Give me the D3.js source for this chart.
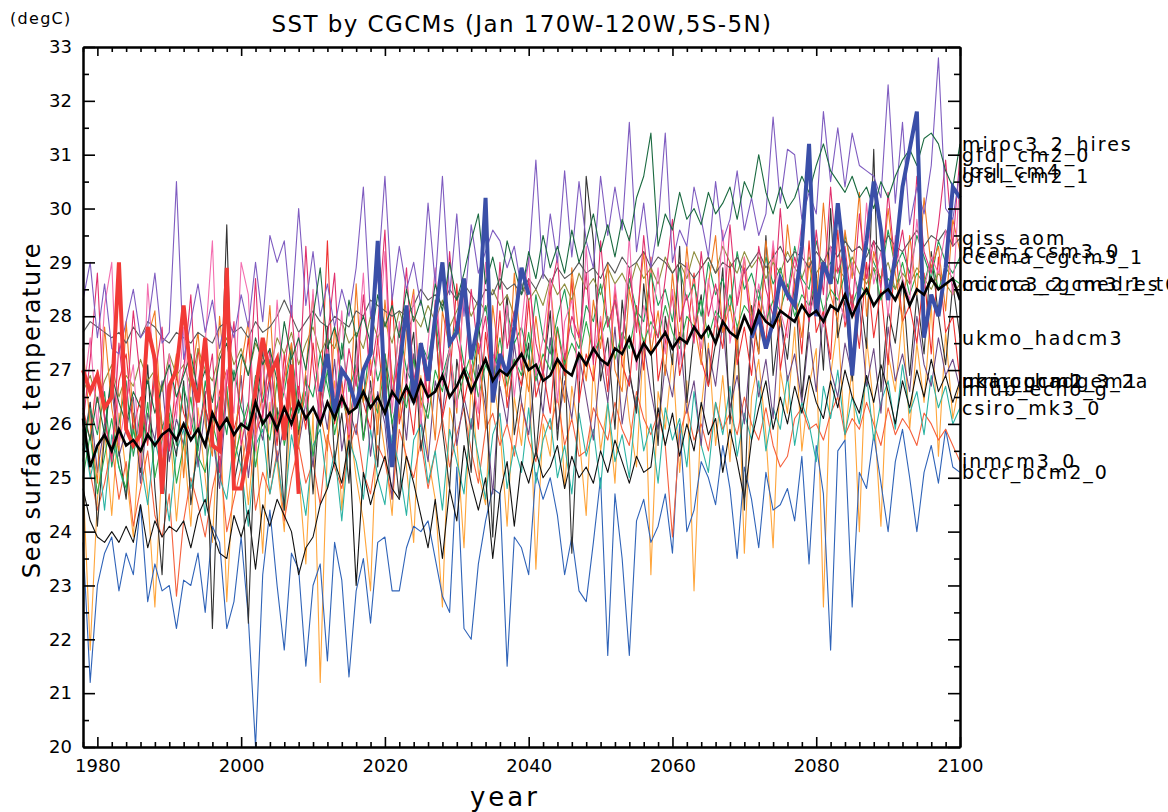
<html>
<head>
<meta charset="utf-8">
<script src="https://d3js.org/d3.v7.min.js"></script>
<style>
  body { margin: 0; background: #fff; }
  text { font-family: "DejaVu Sans", sans-serif; fill: #000; }
</style>
</head>
<body>
<div id="chart1"></div>
<script>
// January SST, 170W-120W 5S-5N, one value per year 1978..2100
var firstYear = 1978, lastYear = 2100;
var majorYears = [1980, 2000, 2020, 2040, 2060, 2080, 2100];
var tempTicks = [20, 21, 22, 23, 24, 25, 26, 27, 28, 29, 30, 31, 32, 33];

var bccr_bcm2_0 = [
  23.8,21.2,23.0,23.6,23.9,22.9,23.6,23.2,24.5,22.7,
  23.4,22.9,23.0,22.2,23.1,23.0,23.6,22.5,24.1,23.8,
  22.2,22.7,23.9,22.4,20.0,23.2,24.4,23.0,21.8,23.6,
  23.3,21.5,23.0,23.4,21.6,23.8,23.1,21.3,22.9,23.5,
  22.3,23.8,23.9,22.9,22.9,23.7,24.1,24.0,24.2,23.5,
  22.8,22.5,25.2,22.2,22.0,23.4,24.2,24.8,24.7,21.5,
  23.9,23.7,23.2,25.1,24.6,25.0,24.3,23.2,23.9,22.9,
  22.7,23.8,25.0,21.7,24.7,23.5,21.7,24.2,24.6,23.8,
  24.1,24.7,23.6,26.0,24.0,24.4,25.3,25.0,24.5,25.6,
  24.8,23.5,25.2,24.6,23.7,25.1,24.4,24.5,24.8,24.2,
  25.4,23.4,25.6,24.7,21.8,25.5,25.7,22.6,25.1,24.8,
  25.8,24.9,24.0,25.3,25.9,25.0,24.0,25.1,25.6,24.9,
  25.9,25.2,25.1];
var ipsl_cm4 = [
  28.3,29.0,27.6,28.6,27.4,27.3,27.9,28.5,27.6,27.8,
  28.8,27.5,27.7,30.5,27.2,27.9,28.6,27.7,28.3,27.4,
  28.1,27.6,28.4,27.8,29.0,27.9,29.5,29.0,29.4,28.0,
  30.0,28.2,29.2,28.0,28.6,27.8,28.5,28.0,28.9,30.4,
  28.0,28.7,30.6,28.3,29.3,28.5,29.0,28.2,30.1,28.6,
  30.6,28.4,29.9,28.0,29.7,28.8,29.2,29.6,29.4,28.9,
  29.3,28.5,29.0,30.9,28.7,29.9,29.0,30.7,29.1,30.5,
  29.4,28.9,30.6,29.5,30.4,29.6,31.6,29.2,30.1,28.9,
  29.7,31.4,29.0,29.6,29.3,30.4,29.8,29.1,30.5,29.4,
  29.8,30.7,29.6,30.2,29.5,29.9,31.7,30.1,31.1,31.0,
  29.8,30.3,29.9,31.8,30.5,31.5,30.4,31.4,30.8,30.7,
  30.6,30.2,32.3,30.1,31.6,29.7,30.4,29.9,30.8,32.8,
  30.0,29.8,30.7];
var miroc3_2_hires = [
  26.2,25.7,26.5,25.8,26.9,26.4,26.0,26.6,26.3,26.8,
  26.2,26.7,27.1,26.5,26.9,27.3,26.6,27.0,26.4,27.2,
  27.5,26.8,27.3,26.9,27.6,27.1,27.4,26.8,27.9,27.2,
  27.6,27.0,28.0,28.9,27.4,27.8,27.2,28.3,27.6,28.0,
  27.5,28.4,27.8,28.2,27.6,28.5,27.9,28.3,27.7,28.6,
  28.1,29.0,28.3,28.8,29.4,29.9,28.6,29.1,28.5,29.4,
  28.9,28.4,29.2,28.7,29.5,28.9,29.3,28.8,29.6,29.0,
  29.4,29.9,29.2,29.7,29.1,29.8,29.4,30.2,30.6,31.4,
  29.3,29.9,29.6,30.3,29.8,30.0,29.7,30.3,29.9,30.1,
  30.4,29.8,30.5,30.2,31.0,30.3,29.9,30.4,30.0,30.2,
  30.6,30.3,30.8,31.2,30.7,30.5,30.3,30.6,30.2,30.4,
  30.0,30.5,30.2,30.6,30.9,31.1,30.8,31.3,31.4,31.2,
  30.7,30.4,31.2];
var gfdl_cm2_0 = [
  26.0,27.2,28.8,26.1,25.3,27.5,26.2,28.1,26.8,25.7,
  26.9,27.8,25.5,26.4,27.0,28.4,25.9,26.5,27.3,25.1,
  26.8,27.9,25.6,26.3,28.7,26.1,27.4,25.8,26.9,28.2,
  26.4,29.3,27.1,26.0,27.6,28.8,26.3,27.4,26.7,28.4,
  26.9,27.8,29.6,26.5,27.3,28.9,26.8,27.5,26.4,28.3,
  27.0,29.2,27.6,26.9,28.5,27.3,28.0,26.7,29.0,27.4,
  28.1,27.0,28.7,27.5,26.9,28.4,29.1,27.2,28.0,27.6,
  28.8,27.1,29.4,27.8,28.3,27.4,28.9,27.7,29.5,28.1,
  27.6,28.7,29.8,27.9,28.4,27.5,29.2,28.0,28.6,27.8,
  29.7,28.2,28.9,27.7,29.3,28.5,28.0,30.0,28.3,29.1,
  28.6,27.9,29.6,28.4,30.4,28.8,29.3,28.1,29.9,28.7,
  29.4,28.5,30.3,28.9,29.6,28.6,30.6,29.2,28.8,29.7,
  30.9,29.3,31.0];
var gfdl_cm2_1 = [
  26.5,27.6,25.9,28.2,29.0,25.6,26.4,27.1,25.2,28.6,
  26.7,25.4,27.3,26.1,27.8,25.9,26.8,27.5,29.4,25.8,
  27.0,26.2,29.0,28.4,25.5,27.2,26.0,28.3,26.6,25.9,
  27.7,26.3,28.5,26.0,27.4,26.5,28.1,25.8,27.0,28.8,
  26.4,27.3,29.2,26.2,27.9,26.6,28.4,26.0,27.5,28.9,
  26.7,27.4,26.3,28.6,27.0,26.2,29.0,27.3,26.8,28.2,
  26.5,27.8,29.1,26.9,27.6,28.7,26.4,27.9,28.3,26.8,
  29.3,27.2,28.0,26.9,28.6,27.4,29.5,27.0,28.2,27.6,
  28.9,27.3,28.5,27.1,29.0,28.0,27.4,28.7,27.8,29.6,
  27.5,28.3,29.1,27.7,28.6,27.9,29.4,28.1,27.6,28.8,
  29.7,28.0,28.5,27.8,29.3,28.4,27.9,29.0,28.2,30.1,
  28.6,29.2,28.0,29.5,28.7,28.3,29.8,28.5,29.1,28.8,
  29.6,28.4,30.6];
var giss_aom = [
  27.7,27.9,27.8,27.7,27.6,27.7,27.5,27.8,27.6,27.9,
  27.8,27.6,27.5,27.7,27.6,27.5,27.7,27.6,27.5,27.8,
  27.9,27.7,27.8,27.6,27.9,27.7,27.8,28.0,28.3,28.0,
  27.7,27.9,28.1,27.9,27.8,28.0,27.9,27.8,28.1,28.0,
  28.3,28.2,28.1,28.0,28.1,28.0,28.2,28.5,28.3,28.4,
  28.2,28.5,28.3,28.6,28.4,28.2,28.5,28.4,28.7,28.5,
  28.6,28.4,28.7,28.5,28.8,28.6,28.9,28.7,28.8,29.0,
  28.8,28.9,28.7,29.0,28.8,29.1,28.9,29.0,29.2,28.9,
  29.1,29.0,28.8,29.0,28.9,28.7,28.9,29.1,28.8,29.0,
  28.9,29.1,28.8,29.0,29.2,28.9,29.1,29.3,29.0,29.2,
  29.1,28.9,29.2,29.0,29.3,29.1,29.4,29.2,29.3,29.1,
  29.4,29.2,29.5,29.3,29.2,29.4,29.6,29.3,29.5,29.4,
  29.6,29.3,29.45];
var ncar_ccsm3_0 = [
  27.4,26.0,24.9,27.8,26.3,25.5,27.9,26.1,25.2,27.6,
  28.1,25.7,26.4,27.3,25.0,26.8,27.7,26.0,25.4,28.0,
  26.5,25.3,27.1,27.9,25.8,26.6,28.2,25.9,26.8,27.5,
  25.6,27.0,28.4,26.2,25.5,27.8,26.7,25.9,28.6,26.4,
  27.2,25.8,28.3,26.9,26.1,27.7,28.5,26.3,27.0,25.7,
  28.1,27.4,26.2,28.7,26.8,27.5,25.9,28.2,27.1,26.5,
  28.8,27.3,26.6,28.0,26.9,28.6,27.2,26.4,28.9,27.6,
  26.8,28.3,27.4,29.0,27.0,26.6,28.5,27.8,29.2,27.3,
  28.1,26.9,28.8,27.5,29.3,27.9,27.1,28.6,29.5,27.7,
  28.2,27.4,29.1,28.0,27.3,29.4,28.3,27.8,29.7,28.5,
  27.6,29.0,28.2,30.1,28.4,27.9,29.6,28.7,30.3,28.0,
  29.2,28.6,30.0,28.8,27.9,29.5,28.4,30.2,28.9,29.3,
  28.1,29.8,29.2];
var cccma_cgcm3_1 = [
  25.5,26.3,25.8,26.6,25.2,26.0,26.8,25.4,26.2,25.7,
  26.9,25.9,26.4,25.6,26.7,26.1,25.5,26.8,26.0,26.5,
  25.8,27.0,26.3,25.9,26.9,26.4,27.2,26.1,26.6,27.4,
  26.2,26.8,26.5,27.3,26.7,26.1,27.5,26.6,27.1,26.4,
  27.6,26.8,27.3,26.5,27.8,27.0,26.7,27.5,27.2,28.0,
  26.9,27.4,27.9,27.1,26.8,27.7,28.2,27.3,27.0,28.1,
  27.5,27.8,27.2,28.4,27.6,27.3,28.0,28.5,27.7,27.4,
  28.2,27.9,28.6,27.8,28.3,27.5,28.7,28.1,27.9,28.8,
  28.2,28.5,27.9,28.9,28.3,28.6,28.0,29.0,28.4,28.7,
  28.1,29.2,28.5,28.8,28.3,29.1,28.6,28.9,28.4,29.3,
  28.7,28.5,29.4,28.8,29.0,28.6,29.5,28.9,28.4,29.3,
  29.0,28.7,29.6,28.9,29.2,28.8,29.5,29.1,28.7,29.4,
  29.0,28.8,29.1];
var cccma_cgcm3_1_t63 = [
  26.6,26.9,26.4,26.8,27.1,26.5,26.9,26.7,27.2,26.8,
  27.0,26.6,27.3,26.9,27.1,26.7,27.4,27.0,26.8,27.3,
  27.6,27.1,27.4,26.9,27.5,27.2,27.0,27.6,27.3,27.7,
  27.1,27.5,27.8,27.3,27.6,27.4,27.9,27.5,27.7,27.4,
  28.0,27.6,27.9,27.5,28.1,27.7,28.0,27.8,28.2,27.9,
  28.3,27.8,28.1,28.4,28.0,28.3,28.1,28.5,28.2,28.4,
  28.0,28.6,28.3,28.5,28.2,28.7,28.4,28.6,28.3,28.8,
  28.5,28.7,28.4,28.9,28.6,28.8,28.5,29.0,28.7,28.9,
  28.6,29.1,28.8,29.0,28.7,29.2,28.9,29.1,28.8,29.3,
  29.0,28.8,29.2,28.9,29.1,28.7,29.0,28.8,29.2,28.9,
  28.7,29.1,28.8,29.0,28.6,28.9,28.7,29.1,28.8,28.6,
  28.9,28.7,29.0,28.5,28.8,28.6,28.9,28.7,28.5,28.8,
  28.6,28.4,28.6];
var miroc3_2_medres = [
  25.0,25.8,24.7,25.4,26.1,25.2,24.8,25.9,25.3,26.4,
  25.0,25.7,26.2,24.9,25.6,26.5,25.4,25.1,26.0,25.5,
  26.7,25.3,25.9,26.4,25.2,26.1,25.7,26.8,25.6,26.3,
  25.9,26.6,25.4,26.2,27.0,25.8,26.5,26.0,26.9,25.7,
  26.6,26.2,27.1,26.0,26.7,26.3,27.2,26.5,26.1,27.0,
  26.6,27.4,26.4,26.9,27.3,26.5,27.1,26.8,27.6,26.7,
  27.2,26.9,27.7,26.8,27.3,27.0,27.8,27.1,27.5,27.2,
  27.9,27.3,27.6,28.0,27.2,27.7,27.4,28.1,27.5,27.9,
  27.6,28.2,27.7,27.4,28.0,27.8,28.3,27.6,28.1,27.9,
  28.4,27.8,28.2,28.0,28.5,27.9,28.3,28.1,28.6,28.0,
  28.4,28.2,28.7,28.1,28.5,28.3,28.8,28.2,28.6,28.4,
  28.9,28.3,28.7,28.5,29.0,28.4,28.8,28.6,29.1,28.5,
  28.9,28.7,28.6];
var ukmo_hadcm3 = [
  25.3,26.4,24.1,25.8,27.0,25.5,24.6,26.2,25.1,27.1,
  24.8,23.2,26.0,25.4,26.8,24.5,25.7,26.6,22.2,25.9,
  29.7,24.9,25.6,22.3,26.1,27.4,25.0,26.3,24.4,27.5,
  25.8,26.9,24.7,26.5,27.8,25.3,26.2,24.9,27.6,25.7,
  26.8,25.2,27.3,26.0,24.6,26.9,27.7,25.5,26.4,28.0,
  25.9,24.8,27.2,26.3,25.1,27.9,26.6,23.9,27.0,28.4,
  25.8,26.7,27.5,25.4,26.9,28.1,25.7,27.3,23.6,26.5,
  30.6,29.4,26.8,27.6,25.9,28.3,27.0,26.2,28.6,27.4,
  25.6,28.0,27.1,29.3,26.4,27.7,28.4,26.7,27.5,28.9,
  26.0,27.8,24.4,28.2,27.3,29.5,26.9,28.0,27.2,28.7,
  26.5,27.9,28.8,27.0,30.0,27.6,28.3,26.8,28.5,27.4,
  31.1,26.6,28.1,27.5,28.7,26.9,28.4,27.3,29.2,28.0,
  27.1,28.6,27.6];
var ukmo_hadgem1 = [
  24.8,24.2,23.9,23.8,24.0,23.8,24.1,23.8,24.5,23.7,
  24.2,23.9,24.1,24.0,24.2,23.7,24.3,24.6,24.0,23.6,
  23.5,24.3,23.9,24.4,23.3,24.5,24.1,24.6,24.3,24.0,
  23.2,23.7,23.9,24.5,24.8,25.3,24.9,25.7,23.0,25.1,
  24.5,25.0,25.4,24.8,24.6,25.4,24.9,24.3,23.7,24.6,
  23.5,24.8,24.2,25.6,24.9,24.4,25.0,23.5,24.7,25.3,
  24.1,25.3,24.9,25.5,25.0,25.2,25.6,24.8,25.4,25.0,
  25.2,24.9,25.5,25.1,25.7,25.3,24.9,25.4,25.1,25.2,
  26.3,25.6,26.2,25.4,26.0,25.5,26.4,25.8,26.1,25.1,
  25.9,25.3,24.6,25.7,26.3,26.8,25.9,26.5,26.0,26.7,
  26.2,26.9,26.4,26.1,26.8,26.3,27.0,26.5,26.2,26.9,
  26.4,27.1,26.6,26.0,26.8,26.3,27.0,26.5,27.2,26.6,
  26.9,26.4,26.8];
var mri_cgcm2_3_2a = [
  26.3,25.7,27.0,26.1,25.4,26.8,27.3,25.9,26.5,25.6,
  27.2,26.0,25.5,26.9,26.2,25.8,27.4,26.3,25.7,26.6,
  27.0,25.9,26.4,27.6,25.8,26.2,26.9,25.6,27.3,26.1,
  26.7,25.9,27.5,26.3,29.4,26.0,26.8,25.7,27.1,26.4,
  25.9,27.6,26.2,28.4,26.0,26.7,25.8,27.4,26.5,27.9,
  26.1,26.8,28.6,26.4,27.1,25.9,27.7,26.6,28.1,26.3,
  27.2,26.7,28.3,26.5,27.0,26.2,27.8,26.9,28.7,26.4,
  27.3,26.8,27.9,26.6,28.5,27.1,26.7,28.2,27.0,29.1,
  26.8,27.5,28.4,26.9,27.6,28.8,27.2,26.7,28.0,27.4,
  29.0,27.1,27.8,26.9,28.3,27.5,29.3,27.0,27.9,28.6,
  27.3,29.4,27.7,28.1,27.2,29.6,27.8,28.4,27.4,29.0,
  27.6,28.5,27.1,29.3,27.9,28.2,27.5,28.8,27.3,29.1,
  27.7,28.0,26.8];
var ncar_pcm1 = [
  25.0,21.8,24.6,25.9,24.3,26.2,25.1,23.9,26.0,24.7,
  22.6,25.3,26.1,24.2,25.7,24.1,26.3,25.0,23.8,26.5,
  22.7,25.2,26.0,24.5,25.9,23.6,26.4,25.3,24.0,26.7,
  25.1,23.4,26.2,21.2,25.6,26.8,24.4,26.1,25.0,24.2,
  22.9,26.4,25.5,24.3,26.6,25.2,23.8,26.9,25.4,24.6,
  22.6,26.3,25.7,23.7,26.8,25.1,24.5,27.0,25.9,24.1,
  26.5,25.6,27.2,23.3,26.0,25.4,27.3,24.8,26.7,25.8,
  24.3,27.1,25.5,26.4,24.9,27.4,26.1,25.2,27.6,23.2,
  26.6,25.9,27.3,25.1,26.8,22.9,26.3,27.5,25.6,26.9,
  25.3,27.7,23.6,26.5,27.2,25.8,23.7,27.0,26.2,27.8,
  25.5,26.7,27.4,22.6,26.9,27.9,25.7,27.1,24.0,27.6,
  26.3,24.1,27.3,26.6,28.0,25.9,27.5,26.4,28.2,25.4,
  27.7,26.1,26.8];
var miub_echo_g = [
  25.6,26.4,25.1,26.0,26.7,25.4,25.9,26.5,24.9,26.2,
  25.7,26.8,25.3,26.1,25.6,27.0,25.2,26.3,25.8,24.8,
  26.6,25.5,26.9,25.0,26.2,25.7,26.8,25.3,26.0,27.1,
  25.6,26.4,25.2,26.7,25.9,27.2,25.5,26.3,25.8,27.0,
  25.4,26.6,26.0,24.6,26.9,25.7,27.3,26.1,25.3,26.8,
  26.2,27.4,25.6,26.5,25.9,27.1,26.3,24.7,26.7,26.0,
  27.5,26.4,25.8,27.0,26.2,27.6,25.9,26.8,26.1,27.3,
  26.5,25.7,27.2,26.4,27.8,26.0,26.9,26.3,27.5,26.6,
  25.9,27.1,26.5,27.7,26.2,26.8,25.6,27.4,26.7,27.9,
  26.3,26.9,26.0,27.6,26.5,27.2,26.1,28.0,26.8,27.3,
  26.4,27.7,26.6,28.1,27.0,26.5,27.5,26.9,28.2,26.7,
  27.4,26.2,27.8,26.8,27.3,26.6,28.0,27.1,26.7,27.6,
  26.9,27.2,26.65];
var csiro_mk3_0 = [
  25.9,25.0,25.6,24.4,25.8,25.2,24.7,25.9,25.3,24.5,
  25.7,25.1,24.2,25.5,25.9,24.8,25.4,24.3,25.8,25.0,
  24.6,25.7,25.2,24.1,25.6,25.9,24.7,25.4,24.4,25.8,
  25.1,24.3,25.6,25.9,24.8,25.5,24.2,25.7,25.3,24.6,
  25.9,25.0,24.5,25.8,25.2,24.3,25.7,26.0,24.9,25.5,
  24.4,25.9,25.3,24.7,26.1,25.4,24.6,25.8,26.2,24.8,
  25.6,25.1,26.3,24.9,25.7,26.1,25.0,25.6,24.7,26.2,
  25.4,25.9,24.8,26.4,25.3,25.8,25.0,26.5,25.5,26.0,
  24.9,26.3,25.7,26.1,25.2,26.6,25.6,25.1,26.4,25.8,
  26.7,25.4,26.2,25.7,26.8,25.5,26.3,25.9,26.9,25.6,
  26.4,26.0,25.3,26.7,26.1,27.0,25.8,26.5,26.0,26.9,
  25.7,26.4,26.8,25.9,27.1,26.2,26.6,25.8,26.9,26.3,
  26.7,26.0,26.3];
var inmcm3_0 = [
  26.0,25.1,24.4,24.9,25.6,24.6,25.3,24.1,24.8,25.5,
  24.3,23.9,24.7,22.8,24.2,25.0,24.5,23.9,24.8,25.4,
  24.0,24.6,25.2,25.9,24.4,25.1,24.7,25.5,24.2,25.0,
  25.6,24.9,25.3,24.5,25.8,25.2,24.8,25.5,26.0,25.1,
  24.7,25.6,25.3,24.6,25.9,25.4,25.0,25.7,24.8,25.5,
  26.1,25.2,25.8,26.3,25.5,24.9,25.9,26.2,25.6,26.0,
  25.4,26.4,25.7,25.3,26.2,25.9,26.5,25.6,26.1,25.4,
  25.5,26.3,26.0,25.7,26.4,25.9,25.6,26.6,26.1,25.8,
  26.2,25.6,23.9,25.8,26.3,25.7,26.0,25.5,26.4,25.9,
  26.2,25.8,26.5,26.0,25.7,26.3,25.6,25.2,25.4,26.1,
  26.3,25.9,26.0,25.7,26.2,26.5,25.8,26.1,25.9,26.4,
  26.0,25.6,26.3,25.8,26.1,25.9,25.6,26.2,26.0,25.7,
  25.9,25.6,25.3];

// observed (thick red), 1978..2008
var observed = [
  27.0,26.6,26.9,26.3,26.5,29.0,25.9,25.6,25.8,27.8,
  27.2,24.7,26.7,27.0,28.2,26.9,26.4,27.6,25.6,25.5,
  28.9,24.8,24.8,25.5,26.6,27.6,26.9,27.2,25.7,27.1,
  24.7];
// highlighted run (thick blue), 2011..2040 and 2071..2100
var highlightYears1 = [2011, 2040];
var highlight1 = [
  26.6,27.3,26.2,27.0,26.8,26.3,27.0,27.3,29.4,26.5,
  25.2,27.0,28.2,26.4,27.5,26.8,28.0,29.0,27.5,27.7,
  28.7,27.2,27.9,30.2,26.4,27.3,26.9,27.8,28.9,28.4];
var highlightYears2 = [2071, 2100];
var highlight2 = [
  27.6,28.0,27.4,27.9,28.7,28.4,28.2,29.3,31.2,28.0,
  29.0,28.6,30.1,28.9,26.9,28.5,29.4,30.5,29.6,28.3,
  29.1,30.4,31.1,31.8,27.6,28.4,28.0,28.9,30.4,30.2];
// model mean (thick black), 1978..2100
var modelMean = [
  26.1,25.2,25.6,25.8,25.5,25.9,25.6,25.7,25.5,25.8,
  25.6,25.8,25.9,25.7,26.0,25.7,25.9,25.6,26.2,25.9,
  26.1,25.8,26.0,25.9,26.4,26.0,26.2,25.9,26.3,26.0,
  26.4,26.1,26.3,26.0,26.4,26.1,26.5,26.2,26.3,26.6,
  26.3,26.5,26.2,26.6,26.4,26.7,26.4,26.8,26.5,26.6,
  26.9,26.5,26.7,27.0,26.6,26.9,27.2,26.8,27.0,26.9,
  27.1,27.3,27.0,27.1,26.8,26.9,27.2,27.0,26.9,27.3,
  27.1,27.4,27.2,27.1,27.4,27.3,27.6,27.2,27.5,27.3,
  27.5,27.7,27.4,27.6,27.5,27.8,27.6,27.8,27.5,27.9,
  27.7,27.6,28.0,27.7,28.1,27.9,27.8,28.1,28.0,27.9,
  28.2,28.0,28.1,27.9,28.2,28.1,28.4,28.0,28.3,28.5,
  28.2,28.4,28.5,28.3,28.6,28.2,28.5,28.4,28.7,28.5,
  28.6,28.7,28.3];

var models = [
  { name: "ncar_pcm1", values: ncar_pcm1, color: "#ffa53a" },
  { name: "bccr_bcm2_0", values: bccr_bcm2_0, color: "#2f63b8" },
  { name: "inmcm3_0", values: inmcm3_0, color: "#f5603c" },
  { name: "csiro_mk3_0", values: csiro_mk3_0, color: "#2bb3a3" },
  { name: "miub_echo_g", values: miub_echo_g, color: "#6e4a86" },
  { name: "ukmo_hadgem1", values: ukmo_hadgem1, color: "#111111" },
  { name: "ukmo_hadcm3", values: ukmo_hadcm3, color: "#333333" },
  { name: "mri_cgcm2_3_2a", values: mri_cgcm2_3_2a, color: "#ee3030" },
  { name: "miroc3_2_medres", values: miroc3_2_medres, color: "#2aa848" },
  { name: "cccma_cgcm3_1_t63", values: cccma_cgcm3_1_t63, color: "#8f8f3f" },
  { name: "cccma_cgcm3_1", values: cccma_cgcm3_1, color: "#1f9a55" },
  { name: "ncar_ccsm3_0", values: ncar_ccsm3_0, color: "#f07a22" },
  { name: "giss_aom", values: giss_aom, color: "#5a5a5a" },
  { name: "gfdl_cm2_1", values: gfdl_cm2_1, color: "#f46fb0" },
  { name: "gfdl_cm2_0", values: gfdl_cm2_0, color: "#e0306e" },
  { name: "ipsl_cm4", values: ipsl_cm4, color: "#7f5cc0" },
  { name: "miroc3_2_hires", values: miroc3_2_hires, color: "#1a6a40" }
];

var svg = d3.select("#chart1").append("svg")
    .attr("width", 1168)
    .attr("height", 812),
    margin = { top: 47, right: 208, bottom: 65, left: 83 },
    width = 1168 - margin.left - margin.right,
    height = 812 - margin.top - margin.bottom;

var x = d3.scaleLinear().domain([firstYear, lastYear]).range([0, width]),
    y = d3.scaleLinear().domain([20, 33]).range([height, 0]);

var g = svg.append("g")
    .attr("transform", "translate(" + margin.left + "," + margin.top + ")");

function toPoints(vals, start) {
    return vals.map(function(v, i) { return { year: start + i, v: v }; });
}

var line = d3.line()
    .x(function(d) { return x(d.year); })
    .y(function(d) { return y(d.v); });

// thin model lines
models.forEach(function(m) {
    g.append("path")
        .datum(toPoints(m.values, firstYear))
        .attr("fill", "none")
        .attr("stroke", m.color)
        .attr("stroke-width", 1.1)
        .attr("stroke-linejoin", "round")
        .attr("d", line);
});

// thick lines
g.append("path")
    .datum(toPoints(observed, firstYear))
    .attr("fill", "none")
    .attr("stroke", "#f23a36")
    .attr("stroke-width", 4)
    .attr("d", line);

[[highlight1, highlightYears1[0]], [highlight2, highlightYears2[0]]].forEach(function(h) {
    g.append("path")
        .datum(toPoints(h[0], h[1]))
        .attr("fill", "none")
        .attr("stroke", "#3a4fa8")
        .attr("stroke-width", 4)
        .attr("d", line);
});

g.append("path")
    .datum(toPoints(modelMean, firstYear))
    .attr("fill", "none")
    .attr("stroke", "#000")
    .attr("stroke-width", 2.6)
    .attr("d", line);

// axes, ticks pointing inward on all four sides
var minorYears = d3.range(firstYear, lastYear + 1, 2).filter(function(d) { return majorYears.indexOf(d) < 0; });
var minorTemps = d3.range(20.5, 33, 1);

function styleAxis(sel) {
    sel.select(".domain").attr("stroke-width", 2);
    sel.selectAll(".tick line").attr("stroke-width", 1.6);
    sel.selectAll("text").style("font-size", "18px").style("font-family", "DejaVu Sans").attr("fill", "#000");
}

g.append("g").attr("transform", "translate(0," + height + ")")
    .call(d3.axisBottom(x).tickValues(majorYears).tickFormat(d3.format("d")).tickSizeInner(-10).tickSizeOuter(0).tickPadding(12))
    .call(styleAxis);
g.append("g").attr("transform", "translate(0," + height + ")")
    .call(d3.axisBottom(x).tickValues(minorYears).tickFormat("").tickSizeInner(-5).tickSizeOuter(0))
    .call(styleAxis);
g.append("g")
    .call(d3.axisTop(x).tickValues(majorYears).tickFormat("").tickSizeInner(-9).tickSizeOuter(0))
    .call(styleAxis);
g.append("g")
    .call(d3.axisTop(x).tickValues(minorYears).tickFormat("").tickSizeInner(-5).tickSizeOuter(0))
    .call(styleAxis);
g.append("g")
    .call(d3.axisLeft(y).tickValues(tempTicks).tickFormat(d3.format("d")).tickSizeInner(-12).tickSizeOuter(0).tickPadding(11))
    .call(styleAxis);
g.append("g")
    .call(d3.axisLeft(y).tickValues(minorTemps).tickFormat("").tickSizeInner(-6).tickSizeOuter(0))
    .call(styleAxis);
g.append("g").attr("transform", "translate(" + width + ",0)")
    .call(d3.axisRight(y).tickValues(tempTicks).tickFormat("").tickSizeInner(-12).tickSizeOuter(0))
    .call(styleAxis);
g.append("g").attr("transform", "translate(" + width + ",0)")
    .call(d3.axisRight(y).tickValues(minorTemps).tickFormat("").tickSizeInner(-6).tickSizeOuter(0))
    .call(styleAxis);

// model names at their 2100 value
models.forEach(function(m) {
    g.append("text")
        .attr("x", width + 2)
        .attr("y", y(m.values[m.values.length - 1]))
        .attr("dy", "0.36em")
        .attr("fill", m.color)
        .style("font-size", "19px")
        .style("letter-spacing", "2px")
        .text(m.name);
});

// titles
svg.append("text")
    .attr("x", 522)
    .attr("y", 32)
    .attr("text-anchor", "middle")
    .style("font-size", "23px")
    .style("letter-spacing", "1.4px")
    .text("SST by CGCMs (Jan 170W-120W,5S-5N)");

svg.append("text")
    .attr("x", 10)
    .attr("y", 24)
    .style("font-size", "16px")
    .style("letter-spacing", "1.3px")
    .text("(degC)");

svg.append("text")
    .attr("x", 505)
    .attr("y", 806)
    .attr("text-anchor", "middle")
    .style("font-size", "26px")
    .style("letter-spacing", "3px")
    .text("year");

svg.append("text")
    .attr("transform", "translate(40,410) rotate(-90)")
    .attr("text-anchor", "middle")
    .style("font-size", "24px")
    .style("letter-spacing", "1.6px")
    .text("Sea surface temperature");
</script>
</body>
</html>
